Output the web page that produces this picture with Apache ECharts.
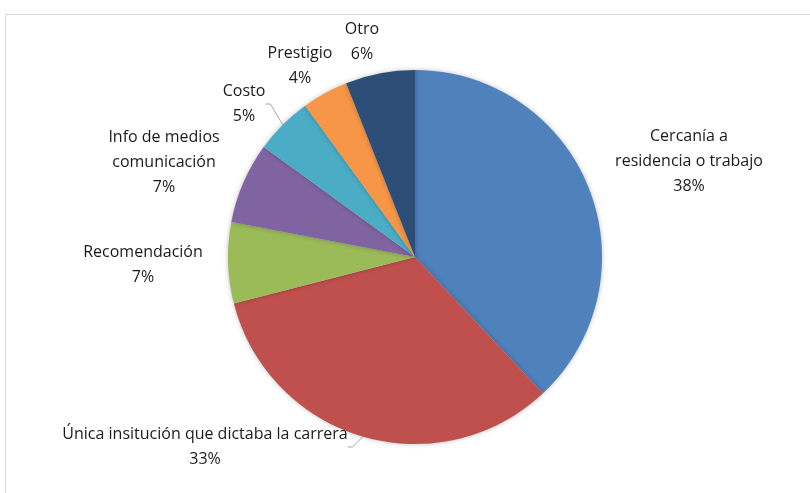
<!DOCTYPE html>
<html>
<head>
<meta charset="utf-8">
<script src="https://cdn.jsdelivr.net/npm/echarts@6/dist/echarts.min.js"></script>
<style>
  html, body { margin: 0; padding: 0; background: #fff; }
  #chart { width: 810px; height: 493px; }
</style>
</head>
<body>
<div id="chart"></div>
<script>
// datos del gráfico
const categories = [
  'Cercanía a\nresidencia o trabajo',
  'Única insitución que dictaba la carrera',
  'Recomendación',
  'Info de medios\ncomunicación',
  'Costo',
  'Prestigio',
  'Otro'
]
const values = [38, 33, 7, 7, 5, 4, 6]
const colors = ['#4f81bd', '#c0504d', '#9bbb59', '#8064a2', '#4bacc6', '#f79646', '#2c4d75']

// posición de las etiquetas (centro del texto), como en el original
const labelPos = [
  [689, 161],
  [205, 447],
  [143, 265],
  [164, 162],
  [244, 104],
  [300, 66],
  [362, 42]
]
const showLine = [false, true, false, false, true, false, false]

const chart = echarts.init(document.getElementById('chart'))

const option = {
  animation: false,
  graphic: [
    {
      type: 'rect',
      shape: { x: 5.5, y: 14.5, width: 820, height: 500 },
      style: { fill: 'none', stroke: '#d9d9d9', lineWidth: 1 },
      silent: true
    }
  ],
  series: [
    {
      type: 'pie',
      center: [415, 257],
      radius: 187,
      startAngle: 90,
      clockwise: true,
      data: categories.map((c, i) => ({
        name: c,
        value: values[i],
        itemStyle: { color: colors[i] },
        labelLine: { show: showLine[i] }
      })),
      itemStyle: {
        shadowBlur: 5,
        shadowColor: 'rgba(0,0,0,0.25)'
      },
      label: {
        show: true,
        position: 'outside',
        formatter: p => p.name + '\n' + p.value + '%',
        fontFamily: 'Open Sans',
        fontSize: 16,
        lineHeight: 25,
        color: '#1a1a1a',
        align: 'center'
      },
      labelLine: {
        lineStyle: { color: '#a6a6a6', width: 1 },
        length: 5,
        length2: 5
      },
      labelLayout: params => {
        const p = labelPos[params.dataIndex]
        return {
          x: p[0],
          y: p[1],
          align: 'center',
          verticalAlign: 'middle'
        }
      }
    }
  ]
}

chart.setOption(option)
</script>
</body>
</html>
